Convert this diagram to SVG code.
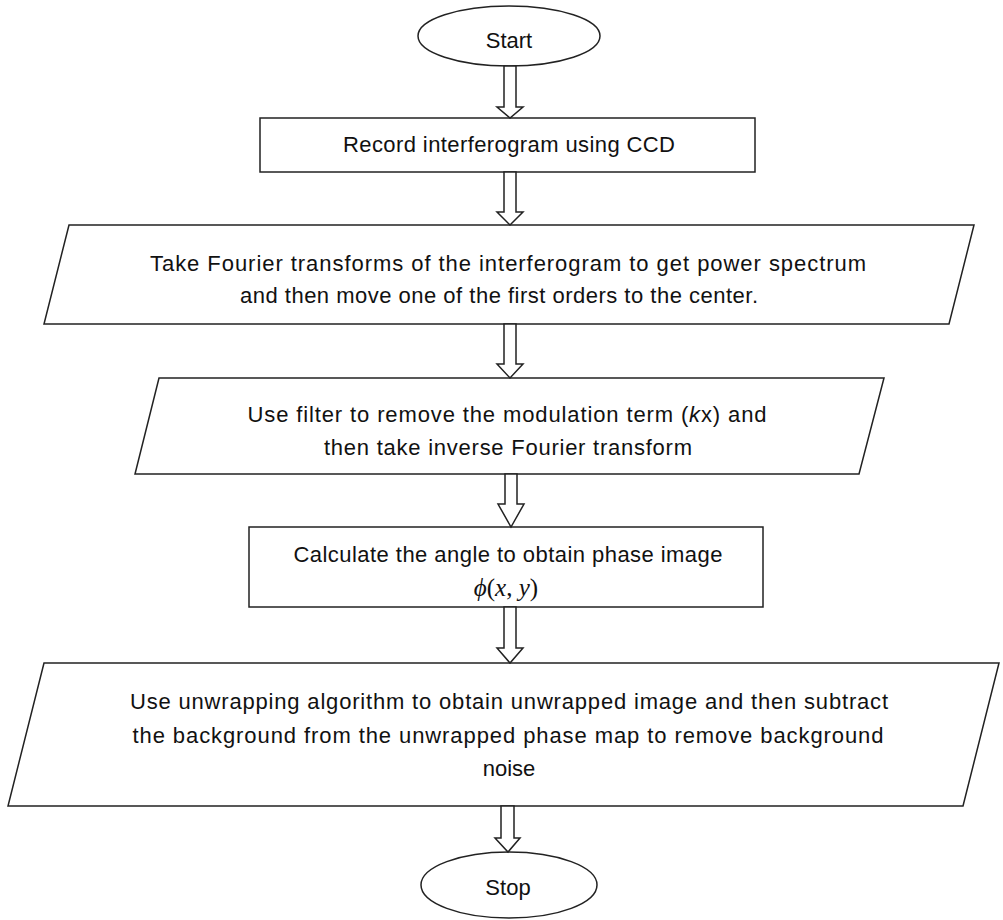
<svg xmlns="http://www.w3.org/2000/svg" width="1003" height="920" viewBox="0 0 1003 920">
<style>
.shape{fill:#fff;stroke:#222;stroke-width:1.5}
.arrow{fill:#fff;stroke:#222;stroke-width:1.5;stroke-linejoin:miter}
.t{font-family:"Liberation Sans",Arial,sans-serif;font-size:22px;fill:#111;text-anchor:middle;dominant-baseline:central}
.m{font-family:"Liberation Serif","Times New Roman",serif;font-size:25px;fill:#111;text-anchor:middle;dominant-baseline:central}
</style>
<rect width="1003" height="920" fill="#fff"/>
<g id="start">
<ellipse class="shape" cx="509" cy="36" rx="91" ry="30"/>
<text class="t" x="509" y="40">Start</text>
</g>
<g id="record">
<rect class="shape" x="260" y="118" width="495" height="54"/>
<text class="t" x="509" y="144" textLength="332" lengthAdjust="spacing">Record interferogram using CCD</text>
</g>
<g id="fourier">
<polygon class="shape" points="69,225 974,225 949,324 44,324"/>
<text class="t" x="508" y="263" textLength="716" lengthAdjust="spacing">Take Fourier transforms of the interferogram to get power spectrum</text>
<text class="t" x="499" y="295" textLength="518" lengthAdjust="spacing">and then move one of the first orders to the center.</text>
</g>
<g id="filter">
<polygon class="shape" points="159,378 884,378 859,474 135,474"/>
<text class="t" x="507" y="414" textLength="519" lengthAdjust="spacing">Use filter to remove the modulation term (<tspan font-style="italic">k</tspan>x) and</text>
<text class="t" x="508" y="447" textLength="368" lengthAdjust="spacing">then take inverse Fourier transform</text>
</g>
<g id="angle">
<rect class="shape" x="249" y="527" width="514" height="80"/>
<text class="t" x="508" y="554" textLength="429" lengthAdjust="spacing">Calculate the angle to obtain phase image</text>
<text class="m" x="506" y="587"><tspan font-style="italic">ϕ</tspan>(<tspan font-style="italic">x</tspan>, <tspan font-style="italic">y</tspan>)</text>
</g>
<g id="unwrap">
<polygon class="shape" points="44,663 999,663 963,806 8,806"/>
<text class="t" x="509" y="701" textLength="758" lengthAdjust="spacing">Use unwrapping algorithm to obtain unwrapped image and then subtract</text>
<text class="t" x="508" y="735" textLength="751" lengthAdjust="spacing">the background from the unwrapped phase map to remove background</text>
<text class="t" x="509" y="768">noise</text>
</g>
<g id="stop">
<ellipse class="shape" cx="509" cy="885" rx="88" ry="33"/>
<text class="t" x="508" y="887">Stop</text>
</g>
<g id="connectors">
<polygon class="arrow" points="504,66 516,66 516,107 523,107 510,118 497,107 504,107"/>
<polygon class="arrow" points="504,172 516,172 516,212 523,212 510,225 497,212 504,212"/>
<polygon class="arrow" points="504,324 516,324 516,364 523,364 510,378 497,364 504,364"/>
<polygon class="arrow" points="505,474 517,474 517,504 524,504 511,527 498,504 505,504"/>
<polygon class="arrow" points="504,607 516,607 516,648 523,648 510,663 497,648 504,648"/>
<polygon class="arrow" points="501,806 514,806 514,838 520,838 508,852 495,838 501,838"/>
</g>
</svg>
